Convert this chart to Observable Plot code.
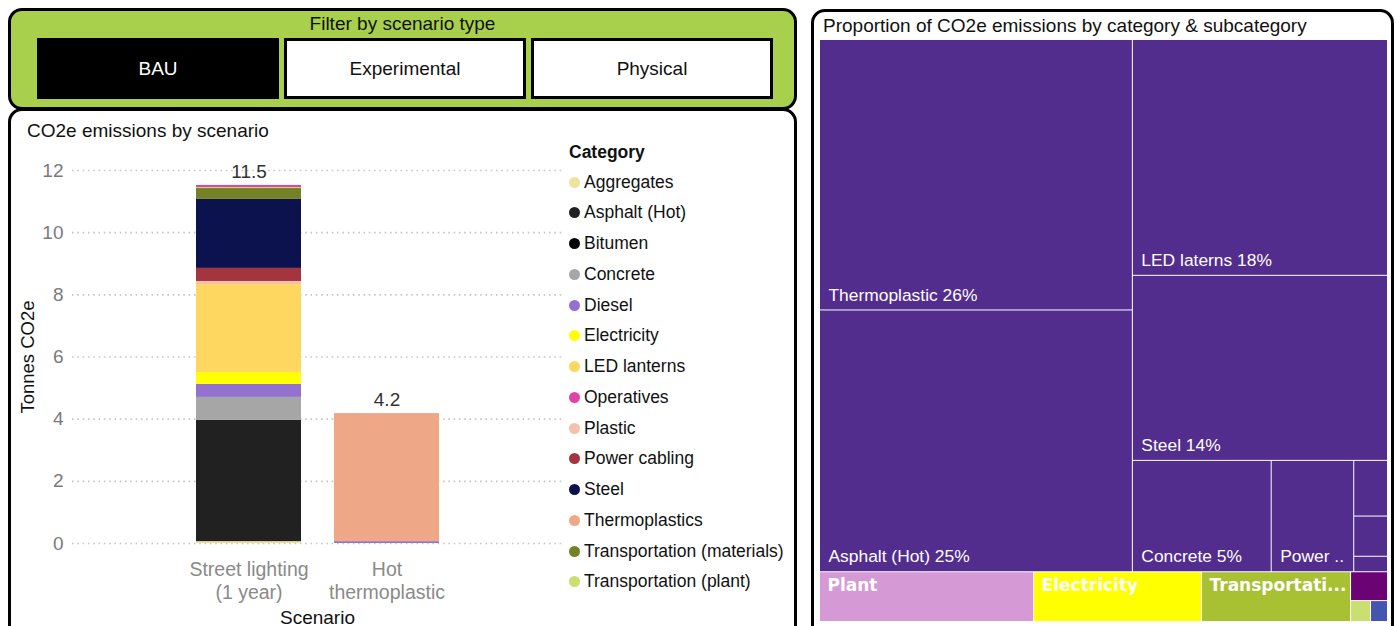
<!DOCTYPE html>
<html><head><meta charset="utf-8">
<script src="https://cdn.jsdelivr.net/npm/d3@7"></script>
<script src="https://cdn.jsdelivr.net/npm/@observablehq/plot@0.6"></script>
<style>
html,body{margin:0;padding:0;background:#fff}
body{width:1397px;height:626px;overflow:hidden;position:relative;font-family:"Liberation Sans",Arial,sans-serif;color:#111}
.panel{position:absolute;border:3px solid #000;border-radius:14px;box-sizing:border-box;background:#fff}
.abs{position:absolute}
.btn{position:absolute;top:38px;height:61px;width:242px;box-sizing:border-box;border:3px solid #000;display:flex;align-items:center;justify-content:center;font-size:19px}
.title{position:absolute;font-size:19px;white-space:nowrap;line-height:1}
.leg-row{position:absolute;left:0;height:20px;display:flex;align-items:center;font-size:17.5px;white-space:nowrap;color:#111}
.leg-dot{width:11px;height:11px;border-radius:50%;margin-right:4px;margin-left:0}
</style></head><body>
<script>
// ---------- data ----------
const scenarioTypes = ["BAU", "Experimental", "Physical"];
const selectedScenarioType = "BAU";

const scenarios = ["Street lighting (1 year)", "Hot thermoplastic"];
const scenarioTickLabels = ["Street lighting\n(1 year)", "Hot\nthermoplastic"];

const categories = ["Aggregates", "Asphalt (Hot)", "Bitumen", "Concrete", "Diesel", "Electricity",
  "LED lanterns", "Operatives", "Plastic", "Power cabling", "Steel", "Thermoplastics",
  "Transportation (materials)", "Transportation (plant)"];
const categoryColors = ["#eee29c", "#212121", "#050505", "#a6a6a6", "#9372cf", "#ffff00",
  "#fdd760", "#e044a7", "#f5c2a9", "#a3353e", "#0b124e", "#efa887",
  "#748225", "#c9e06d"];

const streetLightingCategories = ["Aggregates", "Asphalt (Hot)", "Concrete", "Diesel", "Electricity",
  "LED lanterns", "Plastic", "Power cabling", "Steel", "Transportation (materials)",
  "Transportation (plant)", "Operatives"];
const streetLightingValues = [0.06, 3.90, 0.74, 0.42, 0.38, 2.83, 0.10, 0.42, 2.22, 0.35, 0.03, 0.07];

const hotThermoplasticCategories = ["Diesel", "Thermoplastics"];
const hotThermoplasticValues = [0.06, 4.12];

const yTicks = [0, 2, 4, 6, 8, 10, 12];

// treemap data
const tmCategories = ["Materials", "Materials", "Materials", "Materials", "Materials", "Materials",
  "Materials", "Materials", "Materials", "Plant", "Electricity", "Transportation", "Labour", "Water", "Waste"];
const tmSubcategories = ["Thermoplastic", "Asphalt (Hot)", "LED laterns", "Steel", "Concrete", "Power cabling",
  "Plastic", "Aggregates", "Bitumen", null, null, null, null, null, null];
const tmValues = [4.05, 3.92, 2.88, 2.26, 0.74, 0.44, 0.09, 0.065, 0.025, 0.51, 0.40, 0.355, 0.051, 0.02, 0.017];
const tmGroupNames = ["Materials", "Plant", "Electricity", "Transportation", "Labour", "Water", "Waste"];
const tmGroupColors = ["#522d8e", "#d59ad5", "#ffff00", "#a8c133", "#6b0374", "#c9e070", "#4455b0"];

// ---------- page frame ----------
const body = document.body;
function el(tag, cls, style, text) {
  const e = document.createElement(tag);
  if (cls) e.className = cls;
  if (style) Object.assign(e.style, style);
  if (text != null) e.textContent = text;
  body.appendChild(e);
  return e;
}

// filter panel
el("div", "panel", {left: "8px", top: "8px", width: "789px", height: "102px", background: "#a8d04c"});
el("div", "title", {left: "8px", width: "789px", textAlign: "center", top: "14px"}, "Filter by scenario type");
scenarioTypes.forEach((t, i) => {
  const sel = t === selectedScenarioType;
  el("div", "btn", {left: (37 + i * 247) + "px", background: sel ? "#000" : "#fff", color: sel ? "#fff" : "#111"}, t);
});

// chart panel
el("div", "panel", {left: "8px", top: "108px", width: "789px", height: "540px"});
el("div", "title", {left: "27px", top: "121px"}, "CO2e emissions by scenario");

// treemap panel
el("div", "panel", {left: "811px", top: "9px", width: "583px", height: "640px"});
el("div", "title", {left: "823px", top: "16px"}, "Proportion of CO2e emissions by category & subcategory");

// ---------- bar chart ----------
const barData = [];
streetLightingCategories.forEach((c, i) => barData.push({scenario: scenarios[0], category: c, value: streetLightingValues[i]}));
hotThermoplasticCategories.forEach((c, i) => barData.push({scenario: scenarios[1], category: c, value: hotThermoplasticValues[i]}));
const totals = d3.rollups(barData, v => d3.sum(v, d => d.value), d => d.scenario).map(([scenario, total]) => ({scenario, total}));
const tickLabelMap = new Map(scenarios.map((s, i) => [s, scenarioTickLabels[i]]));

const bar = Plot.plot({
  width: 560, height: 476,
  marginTop: 20, marginBottom: 83, marginLeft: 64, marginRight: 6,
  style: {fontFamily: "'Liberation Sans', Arial, sans-serif", fontSize: "19px", overflow: "visible", background: "transparent"},
  x: {domain: scenarios, range: [188, 431], paddingInner: 0.24, paddingOuter: 0, label: null, axis: null},
  y: {domain: [0, 12], label: null, axis: null},
  color: {domain: categories, range: categoryColors},
  marks: [
    Plot.ruleY(yTicks, {stroke: "#c6c6c6", strokeWidth: 1.6, strokeDasharray: "1.6,3.7"}),
    Plot.barY(barData, {x: "scenario", y: "value", fill: "category"}),
    Plot.text(totals, {x: "scenario", y: "total", text: d => d3.format(".1f")(d.total), dy: -14, fill: "#333", fontSize: 19}),
    Plot.axisY({ticks: yTicks, tickSize: 0, tickPadding: 9, fill: "#7a7a7a", label: null, fontSize: 19}),
    Plot.axisX({tickSize: 0, tickPadding: 16, fill: "#8a8a8a", label: null, fontSize: 19.5, lineHeight: 1.18,
      tickFormat: d => tickLabelMap.get(d)}),
    Plot.text(["Tonnes CO2e"], {frameAnchor: "left", textAnchor: "middle", dx: -44, rotate: -90, fill: "#111", fontSize: 18.5}),
    Plot.text(["Scenario"], {frameAnchor: "bottom", dy: 80, fill: "#111", fontSize: 19})
  ]
});
bar.style.position = "absolute";
bar.style.left = "8px";
bar.style.top = "150px";
body.appendChild(bar);

// legend
const legend = el("div", "abs", {left: "569px", top: "140px"});
const legTitle = document.createElement("div");
Object.assign(legTitle.style, {position: "absolute", left: "0px", top: "2px", fontWeight: "bold", fontSize: "17.5px", whiteSpace: "nowrap"});
legTitle.textContent = "Category";
legend.appendChild(legTitle);
categories.forEach((c, i) => {
  const row = document.createElement("div");
  row.className = "leg-row";
  row.style.top = (32 + i * 30.75) + "px";
  const dot = document.createElement("span");
  dot.className = "leg-dot";
  dot.style.background = categoryColors[i];
  const t = document.createElement("span");
  t.textContent = c;
  row.appendChild(dot); row.appendChild(t);
  legend.appendChild(row);
});

// ---------- treemap ----------
const TW = 567, TH = 581;
const groupsMap = d3.group(tmCategories.map((c, i) => ({category: c, sub: tmSubcategories[i], value: tmValues[i]})), d => d.category);
const rootData = {name: "root", children: Array.from(groupsMap, ([cat, rows]) => {
  if (rows.length === 1 && rows[0].sub == null) return {name: cat, category: cat, sub: null, value: rows[0].value};
  return {name: cat, category: cat, children: rows.map(r => ({name: r.sub, category: cat, sub: r.sub, value: r.value}))};
})};
const root = d3.hierarchy(rootData).sum(d => d.children ? 0 : d.value).sort((a, b) => b.value - a.value);
d3.treemap().tile(d3.treemapSquarify.ratio(1)).size([TW, TH]).paddingInner(1)(root);
const grand = root.value;
const leaves = root.leaves().map(n => ({x0: n.x0, x1: n.x1, y0: n.y0, y1: n.y1, category: n.data.category, sub: n.data.sub, value: n.value}));

const canvas = document.createElement("canvas");
const ctx = canvas.getContext("2d");
function fitWords(text, font, avail) {
  ctx.font = font;
  if (ctx.measureText(text).width <= avail) return text;
  const words = text.split(" ");
  while (words.length > 1) {
    words.pop();
    const s = words.join(" ") + " ..";
    if (ctx.measureText(s).width <= avail) return s;
  }
  return words[0] + " ..";
}
function fitChars(text, font, avail) {
  ctx.font = font;
  if (ctx.measureText(text).width <= avail) return text;
  let s = text;
  while (s.length > 1 && ctx.measureText(s + "...").width > avail) s = s.slice(0, -1);
  return s + "...";
}
const regFont = "17.4px 'Liberation Sans'";
const boldFont = "bold 17px 'DejaVu Sans'";
const subLabels = leaves.filter(d => d.sub != null && d.x1 - d.x0 > 50 && d.y1 - d.y0 > 30)
  .map(d => ({...d, label: fitWords(`${d.sub} ${Math.round(100 * d.value / grand)}%`, regFont, d.x1 - d.x0 - 12)}));
const groupLabels = leaves.filter(d => d.sub == null && d.x1 - d.x0 > 50)
  .map(d => ({...d, label: fitChars(d.category, boldFont, d.x1 - d.x0 - 9)}));

const tree = Plot.plot({
  width: TW, height: TH, margin: 0,
  style: {overflow: "visible", background: "transparent"},
  x: {domain: [0, TW], range: [0, TW], axis: null},
  y: {domain: [0, TH], range: [0, TH], axis: null},
  color: {domain: tmGroupNames, range: tmGroupColors},
  marks: [
    Plot.rect(leaves, {x1: "x0", x2: "x1", y1: "y0", y2: "y1", fill: "category"}),
    Plot.text(subLabels, {x: d => d.x0 + 8, y: d => d.y1 - 15, text: "label", textAnchor: "start", fill: "#fff",
      fontSize: 17.4, fontFamily: "'Liberation Sans', Arial, sans-serif"}),
    Plot.text(groupLabels, {x: d => d.x0 + 7, y: d => d.y0 + 13, text: "label", textAnchor: "start", fill: "#fff",
      fontSize: 17, fontWeight: "bold", fontFamily: "'DejaVu Sans', sans-serif"})
  ]
});
tree.style.position = "absolute";
tree.style.left = "820px";
tree.style.top = "40px";
body.appendChild(tree);
</script>
</body></html>
